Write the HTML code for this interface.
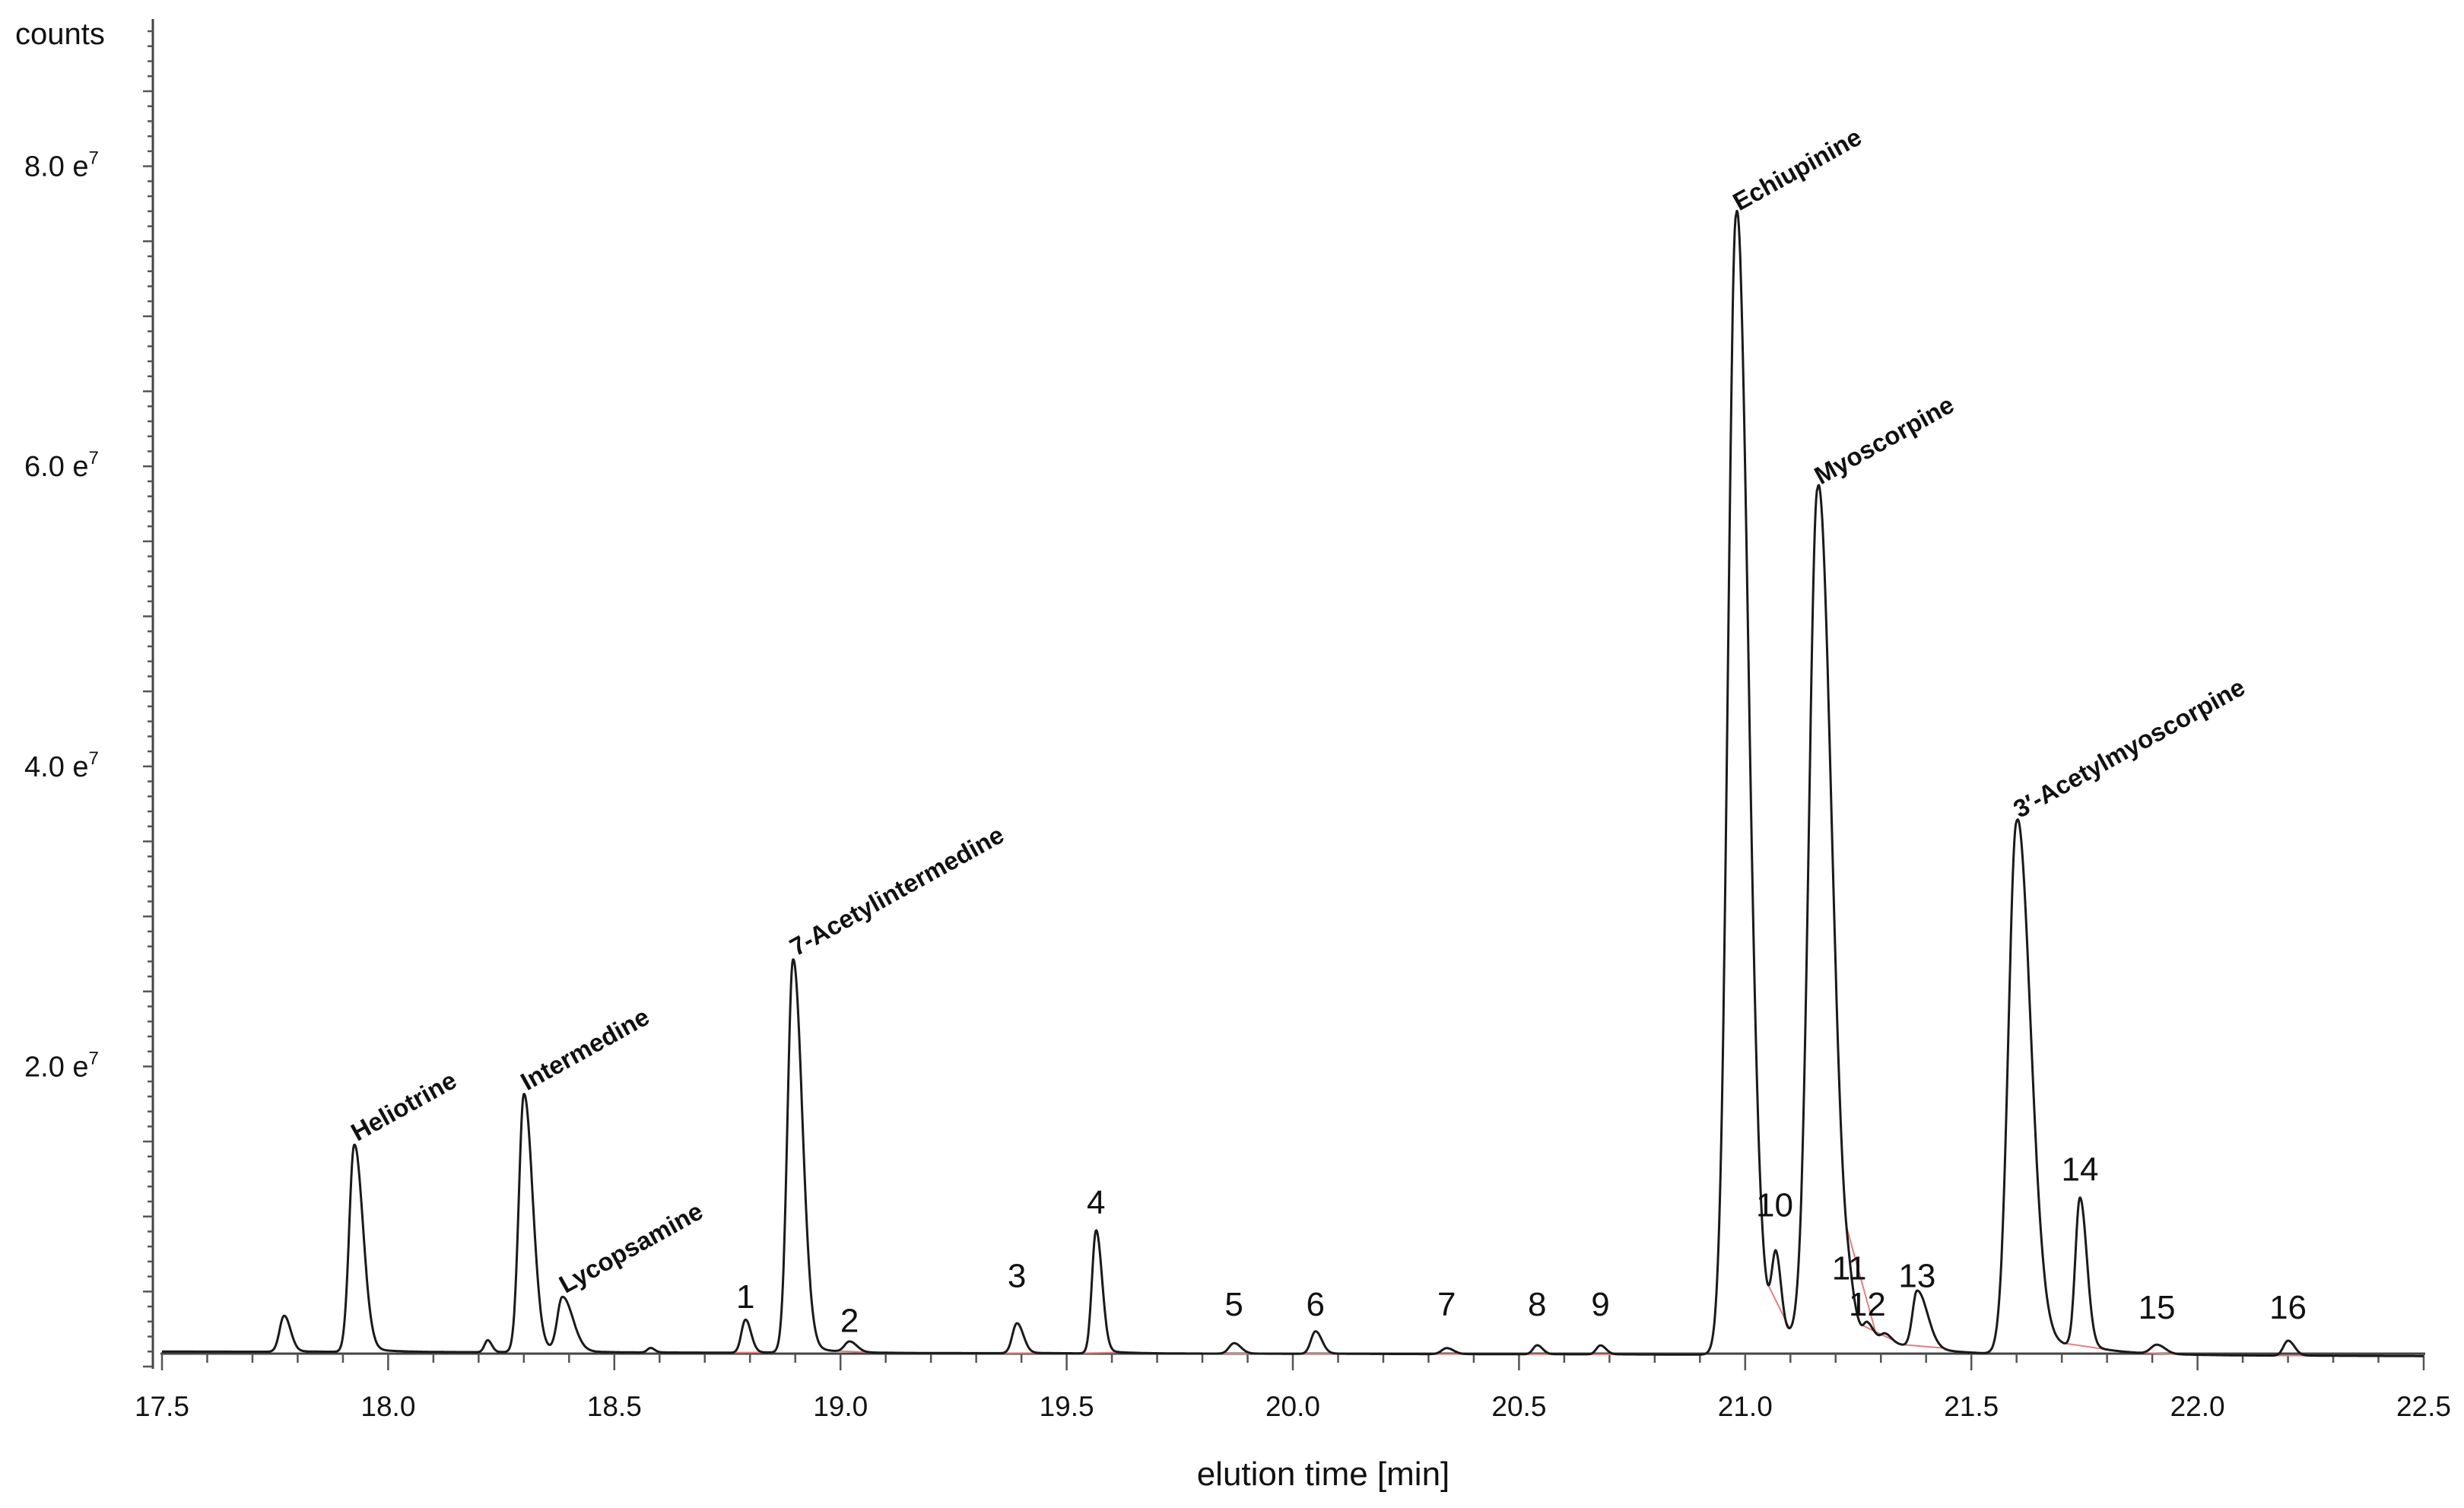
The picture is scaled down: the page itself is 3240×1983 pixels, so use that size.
<!DOCTYPE html>
<html><head><meta charset="utf-8"><style>
html,body{margin:0;padding:0;background:#fff;}
svg{display:block;}
text{font-family:"Liberation Sans",sans-serif;fill:#111;}
.num{font-size:44px;}
.name{font-size:33px;font-weight:bold;}
</style></head><body>
<svg id="chart" width="3240" height="1983" viewBox="0 0 3240 1983" xmlns="http://www.w3.org/2000/svg">
<g id="axes"></g>
<g id="trace"></g>
<g id="labels"></g>
</svg>
<script>
// data
const peakTimes   = [17.77,17.925,18.22,18.30,18.385,18.58,18.79,18.895,19.02,19.39,19.565,19.87,20.05,20.34,20.54,20.68,20.98,21.068,21.16,21.23,21.27,21.31,21.38,21.60,21.74,21.91,22.20];
const peakHeights = [0.24,1.38,0.08,1.72,0.36,0.03,0.22,2.62,0.07,0.2,0.82,0.07,0.15,0.04,0.06,0.06,7.6,0.5,5.7,0.1,0.08,0.05,0.38,3.55,1.0,0.06,0.1];
const peakSigmaL  = [0.01,0.011,0.007,0.011,0.011,0.007,0.009,0.012,0.011,0.01,0.009,0.011,0.01,0.011,0.009,0.009,0.018,0.009,0.019,0.007,0.007,0.009,0.01,0.018,0.01,0.013,0.01];
const peakSigmaR  = [0.014,0.019,0.009,0.019,0.023,0.009,0.012,0.02,0.016,0.014,0.013,0.015,0.014,0.015,0.012,0.012,0.026,0.011,0.03,0.011,0.013,0.013,0.023,0.03,0.015,0.018,0.014];
const tailFrac = 0.03, bigTailFrac = 0.05;
const baseStart = 0.1, baseEnd = 0.07;
const xTickLabels = ["17.5","18.0","18.5","19.0","19.5","20.0","20.5","21.0","21.5","22.0","22.5"];
const yTickValues = [2,4,6,8];
const yTickLabels = ["2.0 e","4.0 e","6.0 e","8.0 e"];
const nameLabels = ["Heliotrine","Intermedine","Lycopsamine","7-Acetylintermedine","Echiupinine","Myoscorpine","3\u2032-Acetylmyoscorpine"];
const nameTimes  = [17.925,18.30,18.385,18.895,20.98,21.16,21.60];
const numLabels = ["1","2","3","4","5","6","7","8","9","10","11","12","13","14","15","16"];
const numTimes  = [18.79,19.02,19.39,19.565,19.87,20.05,20.34,20.54,20.68,21.065,21.23,21.27,21.38,21.74,21.91,22.20];
const numValues = [0.39,0.23,0.53,1.02,0.34,0.34,0.34,0.34,0.34,1.0,0.58,0.34,0.53,1.24,0.32,0.32];

const X0=17.5,X1=22.5,PX0=213,PX1=3187;
const x=t=>PX0+(t-X0)*(PX1-PX0)/(X1-X0);
const y=v=>1797-v*197.3;
const NS="http://www.w3.org/2000/svg";
function mk(tag,attrs,parent){const e=document.createElementNS(NS,tag);for(const k in attrs)e.setAttribute(k,attrs[k]);parent.appendChild(e);return e;}
function signal(t){
  let v=baseStart+(baseEnd-baseStart)*(t-X0)/(X1-X0);
  for(let i=0;i<peakTimes.length;i++){const h=peakHeights[i];const d=t-peakTimes[i];const s=d<0?peakSigmaL[i]:peakSigmaR[i];v+=h*Math.exp(-d*d/(2*s*s));
    if(d>0){const big=h>3;const f=big?bigTailFrac:tailFrac;const tau=big?0.11:0.05;v+=h*f*Math.exp(-d/tau)*(1-Math.exp(-d/0.015));}}
  return v;
}
function localMin(a,b){let best=a,bv=signal(a);for(let t=a;t<=b;t+=0.002){const v=signal(t);if(v<bv){bv=v;best=t;}}return best;}
const axes=document.getElementById('axes');
let ya=mk('line',{x1:201,y1:25,x2:201,y2:1800,stroke:'#444','stroke-width':3},axes);


for(let v=0;v<=8.9;v+=0.1){const big=Math.abs(v*2-Math.round(v*2))<0.01;
  const tk=mk('line',{x1:big?188:194,y1:y(v),x2:201,y2:y(v),stroke:'#555','stroke-width':2.5},axes);
  
  }
yTickValues.forEach((v,i)=>{const t=mk('text',{x:32,y:y(v)+13,'font-size':38},axes);
  
  
  t.textContent=yTickLabels[i];
  const s=mk('tspan',{dy:-16,'font-size':24},t);s.textContent='7';});
let cl=mk('text',{x:20,y:58,'font-size':40},axes);cl.textContent='counts';


let xa=mk('line',{x1:211,y1:1780,x2:3189,y2:1780,stroke:'#444','stroke-width':3},axes);


for(let k=0;k<=50;k++){const t=X0+k*0.1;const big=k%5==0;
  const tk=mk('line',{x1:x(t),y1:1780,x2:x(t),y2:big?1802:1792,stroke:'#555','stroke-width':2.5},axes);
  
  }
xTickLabels.forEach((l,i)=>{const t=mk('text',{x:x(X0+i*0.5),y:1862,'font-size':37,'text-anchor':'middle'},axes);t.textContent=l;
  
  });
let xt=mk('text',{x:1740,y:1953,'font-size':44,'text-anchor':'middle'},axes);xt.textContent='elution time [min]';


const tr=document.getElementById('trace');
numTimes.forEach((t,i)=>{const a=localMin(t-0.05,t-0.005),b=localMin(t+0.005,t+0.06);
  const r=mk('line',{x1:x(a),y1:y(signal(a)),x2:x(b),y2:y(signal(b)),stroke:'#e08080','stroke-width':2},tr);
  
  });
let d='';for(let t=X0;t<=X1+1e-9;t+=0.0015){d+=(d?'L':'M')+x(t).toFixed(1)+' '+y(signal(t)).toFixed(1);}
let p=mk('path',{d:d,fill:'none',stroke:'#1a1a1a','stroke-width':3,'stroke-linejoin':'round'},tr);


const lb=document.getElementById('labels');
nameLabels.forEach((n,i)=>{const px=x(nameTimes[i]),py=y(signal(nameTimes[i]));
  const t=mk('text',{class:'name',x:px+4,y:py-4,transform:`rotate(-29 ${px+4} ${py-4})`},lb);t.textContent=n;
  
  });
numLabels.forEach((n,i)=>{const t=mk('text',{class:'num',x:x(numTimes[i]),y:y(numValues[i]),'text-anchor':'middle'},lb);t.textContent=n;
  
  });
</script>
</body></html>
